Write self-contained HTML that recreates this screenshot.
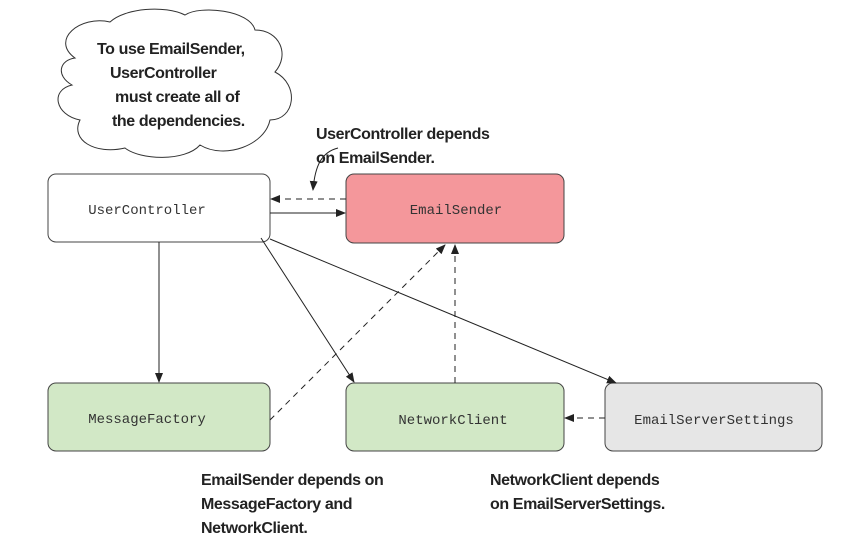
<!DOCTYPE html>
<html><head><meta charset="utf-8"><style>
body{margin:0;background:#fff;}
svg{display:block}
.m{font-family:"Liberation Mono",monospace;font-size:14px;fill:#333;}
.b{font-family:"Liberation Sans",sans-serif;font-weight:bold;font-size:16px;fill:#222;letter-spacing:-0.4px;}
</style></head><body>
<svg width="867" height="549" viewBox="0 0 867 549" xmlns="http://www.w3.org/2000/svg">
<defs><marker id="a" markerWidth="10" markerHeight="8" refX="9" refY="4" orient="auto" markerUnits="userSpaceOnUse"><path d="M0,0 L10,4 L0,8 z" fill="#222"/></marker></defs>
<path d="M75,58 C50,40 80,15 110,22 C125,8 165,5 185,15 C200,5 250,10 255,30 C280,30 290,55 275,72 C300,85 295,120 270,120 C265,145 225,160 200,145 C185,162 140,160 125,148 C95,155 70,140 80,120 C55,115 50,90 72,85 C55,75 60,60 75,58 Z" fill="#fff" stroke="#333" stroke-width="1"/>
<text class="b" x="97" y="54">To use EmailSender,</text>
<text class="b" x="110" y="78">UserController</text>
<text class="b" x="115" y="102">must create all of</text>
<text class="b" x="112" y="126">the dependencies.</text>
<text class="b" x="316" y="139">UserController depends</text>
<text class="b" x="316" y="163">on EmailSender.</text>
<path d="M338,148 C322,152 315,165 313,190" fill="none" stroke="#222" stroke-width="1" marker-end="url(#a)"/>
<rect x="48" y="174" width="222" height="68" rx="8" fill="#fff" stroke="#444"/>
<rect x="346" y="174" width="218" height="69" rx="8" fill="#f4979b" stroke="#444"/>
<rect x="48" y="383" width="222" height="68" rx="8" fill="#d2e8c6" stroke="#444"/>
<rect x="346" y="383" width="218" height="68" rx="8" fill="#d2e8c6" stroke="#444"/>
<rect x="605" y="383" width="217" height="68" rx="8" fill="#e6e6e6" stroke="#444"/>
<text class="m" x="147" y="214" text-anchor="middle">UserController</text>
<text class="m" x="456" y="214" text-anchor="middle">EmailSender</text>
<text class="m" x="147" y="423" text-anchor="middle">MessageFactory</text>
<text class="m" x="453" y="424" text-anchor="middle">NetworkClient</text>
<text class="m" x="714" y="424" text-anchor="middle">EmailServerSettings</text>
<g stroke="#222" stroke-width="1" fill="none">
<line x1="270" y1="213" x2="345" y2="213" marker-end="url(#a)"/>
<line x1="346" y1="199" x2="271" y2="199" stroke-dasharray="6,5" marker-end="url(#a)"/>
<line x1="159" y1="242" x2="159" y2="382" marker-end="url(#a)"/>
<line x1="261" y1="238" x2="354" y2="382" marker-end="url(#a)"/>
<line x1="270" y1="239" x2="616" y2="383" marker-end="url(#a)"/>
<line x1="270" y1="420" x2="445" y2="245" stroke-dasharray="6,5" marker-end="url(#a)"/>
<line x1="455" y1="383" x2="455" y2="245" stroke-dasharray="6,5" marker-end="url(#a)"/>
<line x1="605" y1="418" x2="565" y2="418" stroke-dasharray="6,5" marker-end="url(#a)"/>
</g>
<text class="b" x="201" y="485">EmailSender depends on</text>
<text class="b" x="201" y="509">MessageFactory and</text>
<text class="b" x="201" y="533">NetworkClient.</text>
<text class="b" x="490" y="485">NetworkClient depends</text>
<text class="b" x="490" y="509">on EmailServerSettings.</text>
</svg>
</body></html>
